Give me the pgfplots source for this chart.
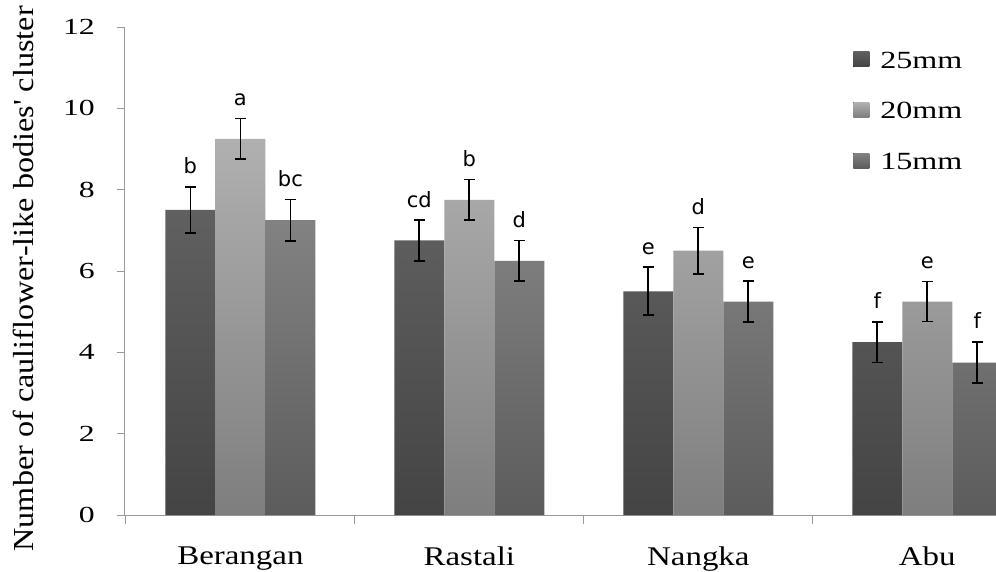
\documentclass[border=0pt]{standalone}
\usepackage{fontspec}
\setmainfont{Liberation Serif}
\newfontfamily\tickf{Liberation Serif}[FakeStretch=1.38]
\newfontfamily\catf{Liberation Serif}[FakeStretch=1.22]
\newfontfamily\legf{Liberation Serif}[FakeStretch=1.3]
\newfontfamily\labf{Liberation Serif}[FakeStretch=1.11]
\newfontfamily\letf{DejaVu Sans}
\usepackage{pgfplots}
\pgfplotsset{compat=1.18}
\usepackage{pgfplotstable}
\definecolor{axgray}{HTML}{9A9A9A}
\definecolor{aT}{HTML}{606060}\definecolor{aB}{HTML}{444444}
\definecolor{bT}{HTML}{B0B0B0}\definecolor{bB}{HTML}{7E7E7E}
\definecolor{cT}{HTML}{828282}\definecolor{cB}{HTML}{5C5C5C}
\pgfplotstableread{
x y err lab
0 7.5 0.57 b
1 6.75 0.5 cd
2 5.5 0.59 e
3 4.25 0.5 f
}\tA
\pgfplotstableread{
x y err lab
0 9.25 0.5 a
1 7.75 0.5 b
2 6.5 0.57 d
3 5.25 0.49 e
}\tB
\pgfplotstableread{
x y err lab
0 7.25 0.51 bc
1 6.25 0.5 d
2 5.25 0.5 e
3 3.75 0.51 f
}\tC
\begin{document}
\begin{tikzpicture}
\useasboundingbox (0,0) rectangle (996pt,571pt);
\begin{axis}[
  at={(125pt,56pt)}, anchor=south west,
  scale only axis, width=871pt, height=488pt,
  xmin=-0.504, xmax=3.30, ymin=0, ymax=12,
  axis lines*=left,
  axis line style={axgray, line width=1pt},
  ybar=0pt, bar width=50pt,
  ytick={0,2,...,12},
  tick align=outside, major tick length=8pt,
  ytick style={axgray, line width=0.8pt},
  xtick={0,1,2,3}, xticklabels={Berangan,Rastali,Nangka,Abu},
  xtick style={draw=none},
  extra x ticks={-0.504,0.5,1.5,2.5}, extra x tick labels={},
  extra x tick style={xtick style={draw=axgray, line width=0.8pt}, major tick length=9pt},
  /pgf/number format/assume math mode=true,
  yticklabel style={font=\tickf\fontsize{23}{23}\selectfont, anchor=east, inner sep=0pt, xshift=-22pt},
  xticklabel style={font=\catf\fontsize{27}{27}\selectfont, anchor=north, inner sep=0pt, yshift=-24pt},
  ylabel={Number of cauliflower-like bodies' cluster},
  ylabel style={font=\labf\fontsize{29}{29}\selectfont, at={(axis description cs:-0.117,0.484)}, anchor=center, inner sep=0pt},
  legend style={draw=none, fill=none, at={(rel axis cs:0.836,0.954)}, anchor=north west,
    font=\legf\fontsize{24.7}{25}\selectfont, row sep=29pt, inner sep=0pt},
  legend cell align=left,
  legend image code/.code={\fill[#1] (0pt,-6pt) rectangle (16pt,9pt); \path (25pt,0pt);},
  point meta=explicit symbolic,
  nodes near coords,
  visualization depends on={\thisrow{err} \as \myerr},
  every node near coord/.append style={font=\letf\fontsize{21}{21}\selectfont, anchor=base, inner sep=0pt, yshift=\myerr*40.667pt+13pt, black},
  every axis plot/.append style={draw=none,
    error bars/y dir=both, error bars/y explicit,
    error bars/error mark=-,
    error bars/error bar style={black, line width=1.8pt},
    error bars/error mark options={black, line width=1.8pt, mark size=5.5pt, rotate=90}},
]
\addplot[top color=aT, bottom color=aB] table[x=x, y=y, y error=err, meta=lab] {\tA};
\addplot[top color=bT, bottom color=bB] table[x=x, y=y, y error=err, meta=lab] {\tB};
\addplot[top color=cT, bottom color=cB] table[x=x, y=y, y error=err, meta=lab] {\tC};
\legend{25mm,20mm,15mm}
\end{axis}
\end{tikzpicture}
\end{document}
